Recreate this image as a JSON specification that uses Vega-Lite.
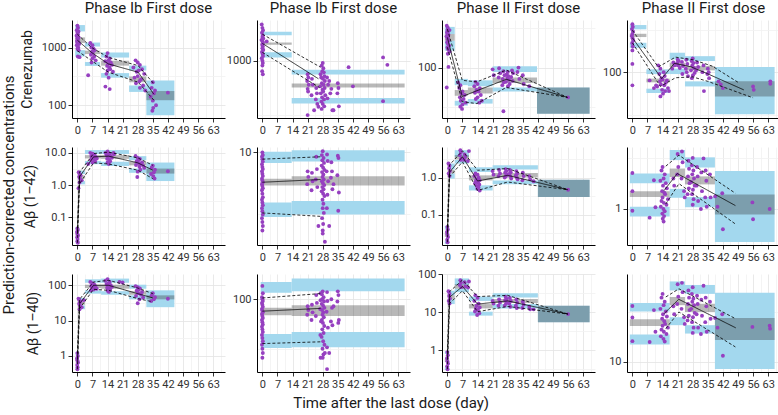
{
"$schema":"https://vega.github.io/schema/vega-lite/v6.json",
"padding":{"left":2,"top":1,"right":0,"bottom":0},
"background":"white",
"title":{"text":"Time after the last dose (day)","orient":"bottom","fontSize":15,"anchor":"middle","offset":7},
"datasets":{
"b":[
{"p":1,"k":"h","x":-1,"x2":3.5,"y":1900,"y2":2450},{"p":1,"k":"m","x":-1,"x2":3.5,"y":1200,"y2":1500},{"p":1,"k":"l","x":-1,"x2":3.5,"y":700,"y2":900},
{"p":1,"k":"h","x":3.5,"x2":10.5,"y":1040,"y2":1220},{"p":1,"k":"m","x":3.5,"x2":10.5,"y":770,"y2":880},{"p":1,"k":"l","x":3.5,"x2":10.5,"y":480,"y2":560},
{"p":1,"k":"h","x":11,"x2":24,"y":670,"y2":820},{"p":1,"k":"m","x":11,"x2":24,"y":485,"y2":590},{"p":1,"k":"l","x":11,"x2":24,"y":300,"y2":360},
{"p":1,"k":"h","x":24,"x2":32,"y":400,"y2":485},{"p":1,"k":"m","x":24,"x2":32,"y":250,"y2":315},{"p":1,"k":"l","x":24,"x2":32,"y":170,"y2":220},
{"p":1,"k":"a","x":32,"x2":45,"y":67,"y2":268},{"p":1,"k":"m","x":32,"x2":45,"y":122,"y2":176},
{"p":2,"k":"h","x":-0.8,"x2":13.6,"y":1710,"y2":1840},{"p":2,"k":"m","x":-0.8,"x2":13.6,"y":1400,"y2":1470},{"p":2,"k":"l","x":-0.8,"x2":13.6,"y":1070,"y2":1190},
{"p":2,"k":"h","x":13.6,"x2":66,"y":745,"y2":825},{"p":2,"k":"m","x":13.6,"x2":66,"y":565,"y2":615},{"p":2,"k":"l","x":13.6,"x2":66,"y":404,"y2":454},
{"p":3,"k":"h","x":-1.2,"x2":3.4,"y":266,"y2":328},{"p":3,"k":"m","x":-1.2,"x2":3.4,"y":219,"y2":266},{"p":3,"k":"l","x":-1.2,"x2":3.4,"y":164,"y2":219},
{"p":3,"k":"h","x":3.4,"x2":9.5,"y":60,"y2":72},{"p":3,"k":"m","x":3.4,"x2":9.5,"y":44,"y2":52},{"p":3,"k":"l","x":3.4,"x2":9.5,"y":33,"y2":38},
{"p":3,"k":"h","x":9.5,"x2":21,"y":58,"y2":69},{"p":3,"k":"m","x":9.5,"x2":21,"y":47,"y2":56},{"p":3,"k":"l","x":9.5,"x2":21,"y":35,"y2":40},
{"p":3,"k":"h","x":21,"x2":41.6,"y":88,"y2":104},{"p":3,"k":"m","x":21,"x2":41.6,"y":64,"y2":75},{"p":3,"k":"l","x":21,"x2":41.6,"y":50,"y2":56},
{"p":3,"k":"a","x":41.6,"x2":66,"y":26,"y2":56},{"p":3,"k":"m","x":41.6,"x2":66,"y":26,"y2":56},
{"p":4,"k":"h","x":-1.2,"x2":6.5,"y":318,"y2":357},{"p":4,"k":"m","x":-1.2,"x2":6.5,"y":258,"y2":282},{"p":4,"k":"l","x":-1.2,"x2":6.5,"y":193,"y2":221},
{"p":4,"k":"h","x":6.5,"x2":17.3,"y":95,"y2":108},{"p":4,"k":"m","x":6.5,"x2":17.3,"y":76,"y2":84},{"p":4,"k":"l","x":6.5,"x2":17.3,"y":57,"y2":64},
{"p":4,"k":"h","x":17.3,"x2":24.4,"y":141,"y2":169},{"p":4,"k":"m","x":17.3,"x2":24.4,"y":115,"y2":129},{"p":4,"k":"l","x":17.3,"x2":24.4,"y":95,"y2":110},
{"p":4,"k":"h","x":24.4,"x2":38.3,"y":135,"y2":154},{"p":4,"k":"m","x":24.4,"x2":38.3,"y":105,"y2":118},{"p":4,"k":"l","x":24.4,"x2":38.3,"y":68,"y2":78},
{"p":4,"k":"a","x":38.3,"x2":66,"y":32,"y2":115},{"p":4,"k":"m","x":38.3,"x2":66,"y":52,"y2":78},
{"p":5,"k":"h","x":-0.8,"x2":0.8,"y":0.04,"y2":0.05},{"p":5,"k":"m","x":-0.8,"x2":0.8,"y":0.025,"y2":0.032},{"p":5,"k":"l","x":-0.8,"x2":0.8,"y":0.015,"y2":0.02},
{"p":5,"k":"h","x":0.8,"x2":3.5,"y":2.2,"y2":2.8},{"p":5,"k":"m","x":0.8,"x2":3.5,"y":1.6,"y2":2.0},{"p":5,"k":"l","x":0.8,"x2":3.5,"y":1.05,"y2":1.33},
{"p":5,"k":"h","x":3.5,"x2":11,"y":9.2,"y2":12.2},{"p":5,"k":"m","x":3.5,"x2":11,"y":6.7,"y2":8.5},{"p":5,"k":"l","x":3.5,"x2":11,"y":4.45,"y2":5.6},
{"p":5,"k":"h","x":11,"x2":24,"y":9.2,"y2":12.2},{"p":5,"k":"m","x":11,"x2":24,"y":6.5,"y2":8.5},{"p":5,"k":"l","x":11,"x2":24,"y":3.9,"y2":5.3},
{"p":5,"k":"h","x":24,"x2":32,"y":5.9,"y2":7.9},{"p":5,"k":"m","x":24,"x2":32,"y":4.1,"y2":5.25},{"p":5,"k":"l","x":24,"x2":32,"y":2.4,"y2":3.25},
{"p":5,"k":"a","x":32,"x2":45,"y":1.33,"y2":5.0},{"p":5,"k":"m","x":32,"x2":45,"y":2.27,"y2":3.25},
{"p":6,"k":"h","x":-0.8,"x2":13.6,"y":8.2,"y2":10.1},{"p":6,"k":"m","x":-0.8,"x2":13.6,"y":5.37,"y2":6.1},{"p":6,"k":"l","x":-0.8,"x2":13.6,"y":2.97,"y2":3.9},
{"p":6,"k":"h","x":13.6,"x2":66,"y":8.4,"y2":10.4},{"p":6,"k":"m","x":13.6,"x2":66,"y":5.37,"y2":6.37},{"p":6,"k":"l","x":13.6,"x2":66,"y":3.1,"y2":4.0},
{"p":7,"k":"h","x":-1.2,"x2":0.8,"y":0.04,"y2":0.05},{"p":7,"k":"m","x":-1.2,"x2":0.8,"y":0.025,"y2":0.033},{"p":7,"k":"l","x":-1.2,"x2":0.8,"y":0.016,"y2":0.02},
{"p":7,"k":"h","x":0.8,"x2":3.4,"y":1.65,"y2":2.4},{"p":7,"k":"m","x":0.8,"x2":3.4,"y":1.3,"y2":1.6},{"p":7,"k":"l","x":0.8,"x2":3.4,"y":0.94,"y2":1.29},
{"p":7,"k":"h","x":3.4,"x2":10,"y":3.65,"y2":5.5},{"p":7,"k":"m","x":3.4,"x2":10,"y":3.1,"y2":4.05},{"p":7,"k":"l","x":3.4,"x2":10,"y":2.4,"y2":3.0},
{"p":7,"k":"h","x":10,"x2":21,"y":1.42,"y2":1.9},{"p":7,"k":"m","x":10,"x2":21,"y":0.84,"y2":1.15},{"p":7,"k":"l","x":10,"x2":21,"y":0.45,"y2":0.62},
{"p":7,"k":"h","x":21,"x2":42,"y":1.65,"y2":2.16},{"p":7,"k":"m","x":21,"x2":42,"y":1.0,"y2":1.33},{"p":7,"k":"l","x":21,"x2":42,"y":0.66,"y2":0.84},
{"p":7,"k":"a","x":42,"x2":66,"y":0.3,"y2":0.88},{"p":7,"k":"m","x":42,"x2":66,"y":0.3,"y2":0.88},
{"p":8,"k":"h","x":-1.2,"x2":17.3,"y":1.8,"y2":2.24},{"p":8,"k":"m","x":-1.2,"x2":17.3,"y":1.31,"y2":1.5},{"p":8,"k":"l","x":-1.2,"x2":17.3,"y":0.84,"y2":1.05},
{"p":8,"k":"h","x":17.3,"x2":24.4,"y":3.04,"y2":3.83},{"p":8,"k":"m","x":17.3,"x2":24.4,"y":2.07,"y2":2.51},{"p":8,"k":"l","x":17.3,"x2":24.4,"y":1.29,"y2":1.58},
{"p":8,"k":"h","x":24.4,"x2":38.3,"y":2.57,"y2":3.24},{"p":8,"k":"m","x":24.4,"x2":38.3,"y":1.75,"y2":2.1},{"p":8,"k":"l","x":24.4,"x2":38.3,"y":1.04,"y2":1.31},
{"p":8,"k":"a","x":38.3,"x2":66,"y":0.47,"y2":2.38},{"p":8,"k":"m","x":38.3,"x2":66,"y":0.88,"y2":1.39},
{"p":9,"k":"h","x":-0.8,"x2":0.8,"y":1.0,"y2":1.3},{"p":9,"k":"m","x":-0.8,"x2":0.8,"y":0.6,"y2":0.8},{"p":9,"k":"l","x":-0.8,"x2":0.8,"y":0.4,"y2":0.5},
{"p":9,"k":"h","x":0.8,"x2":3.5,"y":36,"y2":44},{"p":9,"k":"m","x":0.8,"x2":3.5,"y":28,"y2":34},{"p":9,"k":"l","x":0.8,"x2":3.5,"y":21,"y2":27},
{"p":9,"k":"h","x":3.5,"x2":11,"y":118,"y2":148},{"p":9,"k":"m","x":3.5,"x2":11,"y":84,"y2":104},{"p":9,"k":"l","x":3.5,"x2":11,"y":58,"y2":72},
{"p":9,"k":"h","x":11,"x2":24,"y":118,"y2":155},{"p":9,"k":"m","x":11,"x2":24,"y":80,"y2":104},{"p":9,"k":"l","x":11,"x2":24,"y":54,"y2":68},
{"p":9,"k":"h","x":24,"x2":32,"y":80,"y2":104},{"p":9,"k":"m","x":24,"x2":32,"y":54,"y2":68},{"p":9,"k":"l","x":24,"x2":32,"y":40,"y2":52},
{"p":9,"k":"a","x":32,"x2":45,"y":24,"y2":72},{"p":9,"k":"m","x":32,"x2":45,"y":40,"y2":52},
{"p":10,"k":"h","x":-0.8,"x2":13.6,"y":116,"y2":149},{"p":10,"k":"m","x":-0.8,"x2":13.6,"y":69,"y2":82},{"p":10,"k":"l","x":-0.8,"x2":13.6,"y":32.5,"y2":45},
{"p":10,"k":"h","x":13.6,"x2":66,"y":120,"y2":161},{"p":10,"k":"m","x":13.6,"x2":66,"y":68,"y2":87},{"p":10,"k":"l","x":13.6,"x2":66,"y":33,"y2":47},
{"p":11,"k":"h","x":-1.2,"x2":0.8,"y":0.8,"y2":0.95},{"p":11,"k":"m","x":-1.2,"x2":0.8,"y":0.5,"y2":0.6},{"p":11,"k":"l","x":-1.2,"x2":0.8,"y":0.3,"y2":0.36},
{"p":11,"k":"h","x":0.8,"x2":3.4,"y":28,"y2":37},{"p":11,"k":"m","x":0.8,"x2":3.4,"y":22,"y2":28},{"p":11,"k":"l","x":0.8,"x2":3.4,"y":16.5,"y2":22},
{"p":11,"k":"h","x":3.4,"x2":10,"y":52,"y2":78},{"p":11,"k":"m","x":3.4,"x2":10,"y":42,"y2":55},{"p":11,"k":"l","x":3.4,"x2":10,"y":34,"y2":42},
{"p":11,"k":"h","x":10,"x2":21,"y":20,"y2":26},{"p":11,"k":"m","x":10,"x2":21,"y":12.7,"y2":16.5},{"p":11,"k":"l","x":10,"x2":21,"y":8.2,"y2":10.4},
{"p":11,"k":"h","x":21,"x2":42,"y":24.6,"y2":32},{"p":11,"k":"m","x":21,"x2":42,"y":17.5,"y2":22.3},{"p":11,"k":"l","x":21,"x2":42,"y":12.7,"y2":16.5},
{"p":11,"k":"a","x":42,"x2":66,"y":5.5,"y2":15},{"p":11,"k":"m","x":42,"x2":66,"y":5.5,"y2":15},
{"p":12,"k":"h","x":-1.2,"x2":17.3,"y":32,"y2":39},{"p":12,"k":"m","x":-1.2,"x2":17.3,"y":22.9,"y2":26.7},{"p":12,"k":"l","x":-1.2,"x2":17.3,"y":14.9,"y2":18.8},
{"p":12,"k":"h","x":17.3,"x2":24.4,"y":52,"y2":64},{"p":12,"k":"m","x":17.3,"x2":24.4,"y":37,"y2":44.7},{"p":12,"k":"l","x":17.3,"x2":24.4,"y":23.3,"y2":28},
{"p":12,"k":"h","x":24.4,"x2":38.3,"y":48,"y2":59},{"p":12,"k":"m","x":24.4,"x2":38.3,"y":31.6,"y2":38.2},{"p":12,"k":"l","x":24.4,"x2":38.3,"y":19.2,"y2":23.3},
{"p":12,"k":"a","x":38.3,"x2":66,"y":8.45,"y2":49.3},{"p":12,"k":"m","x":38.3,"x2":66,"y":16.5,"y2":27.5}
],
"l":[
{"p":1,"q":"m","x":0,"y":1340},{"p":1,"q":"m","x":6.6,"y":820},{"p":1,"q":"m","x":14.4,"y":519},{"p":1,"q":"m","x":28.2,"y":373},{"p":1,"q":"m","x":35.5,"y":155},
{"p":1,"q":"h","x":0,"y":1700},{"p":1,"q":"h","x":6.6,"y":1000},{"p":1,"q":"h","x":14.4,"y":674},{"p":1,"q":"h","x":28.2,"y":485},{"p":1,"q":"h","x":35.5,"y":235},
{"p":1,"q":"l","x":0,"y":877},{"p":1,"q":"l","x":6.6,"y":591},{"p":1,"q":"l","x":14.4,"y":373},{"p":1,"q":"l","x":28.2,"y":251},{"p":1,"q":"l","x":35.5,"y":122},
{"p":2,"q":"m","x":0,"y":1437},{"p":2,"q":"m","x":26,"y":681},{"p":2,"q":"h","x":0,"y":1748},{"p":2,"q":"h","x":27,"y":869},{"p":2,"q":"l","x":0,"y":1190},{"p":2,"q":"l","x":26.5,"y":565},
{"p":3,"q":"m","x":0,"y":241},{"p":3,"q":"m","x":6.9,"y":43},{"p":3,"q":"m","x":13.7,"y":51},{"p":3,"q":"m","x":27.3,"y":71},{"p":3,"q":"m","x":55.7,"y":42},
{"p":3,"q":"h","x":0,"y":307},{"p":3,"q":"h","x":6.9,"y":69},{"p":3,"q":"h","x":13.7,"y":66},{"p":3,"q":"h","x":27.3,"y":93},{"p":3,"q":"h","x":55.7,"y":42},
{"p":3,"q":"l","x":0,"y":181},{"p":3,"q":"l","x":6.9,"y":37},{"p":3,"q":"l","x":13.7,"y":35},{"p":3,"q":"l","x":27.3,"y":56},{"p":3,"q":"l","x":55.7,"y":42},
{"p":4,"q":"m","x":0,"y":253},{"p":4,"q":"m","x":13.6,"y":84},{"p":4,"q":"m","x":19.5,"y":127},{"p":4,"q":"m","x":27,"y":116},{"p":4,"q":"m","x":34,"y":98},{"p":4,"q":"m","x":51.7,"y":62},
{"p":4,"q":"h","x":0,"y":310},{"p":4,"q":"h","x":12,"y":115},{"p":4,"q":"h","x":20,"y":150},{"p":4,"q":"h","x":28,"y":140},{"p":4,"q":"h","x":37,"y":118},{"p":4,"q":"h","x":49.4,"y":75},
{"p":4,"q":"l","x":0,"y":221},{"p":4,"q":"l","x":13,"y":68},{"p":4,"q":"l","x":20,"y":86},{"p":4,"q":"l","x":28,"y":88},{"p":4,"q":"l","x":35,"y":78},{"p":4,"q":"l","x":56,"y":50},
{"p":5,"q":"m","x":0,"y":0.03},{"p":5,"q":"m","x":1,"y":1.8},{"p":5,"q":"m","x":7.5,"y":7.5},{"p":5,"q":"m","x":14.5,"y":7.9},{"p":5,"q":"m","x":28,"y":4.9},{"p":5,"q":"m","x":35,"y":2.9},
{"p":5,"q":"h","x":0,"y":0.045},{"p":5,"q":"h","x":1,"y":2.5},{"p":5,"q":"h","x":7.5,"y":9.5},{"p":5,"q":"h","x":14.5,"y":10.5},{"p":5,"q":"h","x":28,"y":7},{"p":5,"q":"h","x":35,"y":4.1},
{"p":5,"q":"l","x":0,"y":0.016},{"p":5,"q":"l","x":1,"y":1.1},{"p":5,"q":"l","x":7.5,"y":4.9},{"p":5,"q":"l","x":14.5,"y":4.5},{"p":5,"q":"l","x":28,"y":2.9},{"p":5,"q":"l","x":35,"y":1.58},
{"p":6,"q":"m","x":0,"y":5.7},{"p":6,"q":"m","x":27,"y":6.0},{"p":6,"q":"h","x":0,"y":8.8},{"p":6,"q":"h","x":27,"y":9.2},{"p":6,"q":"l","x":0,"y":3.2},{"p":6,"q":"l","x":27,"y":3.0},
{"p":7,"q":"m","x":0,"y":0.03},{"p":7,"q":"m","x":1,"y":1.4},{"p":7,"q":"m","x":7,"y":3.65},{"p":7,"q":"m","x":14,"y":0.81},{"p":7,"q":"m","x":28,"y":1.15},{"p":7,"q":"m","x":56,"y":0.47},
{"p":7,"q":"h","x":0,"y":0.047},{"p":7,"q":"h","x":1,"y":2.2},{"p":7,"q":"h","x":7,"y":5.3},{"p":7,"q":"h","x":14,"y":1.58},{"p":7,"q":"h","x":28,"y":1.76},{"p":7,"q":"h","x":56,"y":0.47},
{"p":7,"q":"l","x":0,"y":0.018},{"p":7,"q":"l","x":1,"y":1.05},{"p":7,"q":"l","x":7,"y":2.66},{"p":7,"q":"l","x":14,"y":0.45},{"p":7,"q":"l","x":28,"y":0.76},{"p":7,"q":"l","x":56,"y":0.47},
{"p":8,"q":"m","x":14.7,"y":1.52},{"p":8,"q":"m","x":20.8,"y":2.24},{"p":8,"q":"m","x":47.8,"y":1.08},
{"p":8,"q":"h","x":15.5,"y":2.65},{"p":8,"q":"h","x":21.6,"y":3.4},{"p":8,"q":"h","x":47.8,"y":1.43},
{"p":8,"q":"l","x":15.5,"y":1.12},{"p":8,"q":"l","x":21.6,"y":1.78},{"p":8,"q":"l","x":47.8,"y":0.71},
{"p":9,"q":"m","x":0,"y":0.7},{"p":9,"q":"m","x":1,"y":30},{"p":9,"q":"m","x":7.5,"y":100},{"p":9,"q":"m","x":14.5,"y":100},{"p":9,"q":"m","x":28,"y":58},{"p":9,"q":"m","x":35,"y":44},
{"p":9,"q":"h","x":0,"y":1.2},{"p":9,"q":"h","x":1,"y":40},{"p":9,"q":"h","x":7.5,"y":124},{"p":9,"q":"h","x":14.5,"y":138},{"p":9,"q":"h","x":28,"y":84},{"p":9,"q":"h","x":35,"y":58},
{"p":9,"q":"l","x":0,"y":0.42},{"p":9,"q":"l","x":1,"y":22},{"p":9,"q":"l","x":7.5,"y":77},{"p":9,"q":"l","x":14.5,"y":72},{"p":9,"q":"l","x":28,"y":42},{"p":9,"q":"l","x":35,"y":34},
{"p":10,"q":"m","x":0,"y":76},{"p":10,"q":"m","x":27,"y":81},{"p":10,"q":"h","x":0,"y":103},{"p":10,"q":"h","x":27,"y":114},{"p":10,"q":"l","x":0,"y":36},{"p":10,"q":"l","x":27,"y":37.5},
{"p":11,"q":"m","x":0,"y":0.55},{"p":11,"q":"m","x":1,"y":25},{"p":11,"q":"m","x":7,"y":48},{"p":11,"q":"m","x":14,"y":16.5},{"p":11,"q":"m","x":28,"y":20},{"p":11,"q":"m","x":56,"y":9},
{"p":11,"q":"h","x":0,"y":0.9},{"p":11,"q":"h","x":1,"y":35},{"p":11,"q":"h","x":7,"y":71},{"p":11,"q":"h","x":14,"y":26},{"p":11,"q":"h","x":28,"y":28},{"p":11,"q":"h","x":56,"y":9},
{"p":11,"q":"l","x":0,"y":0.32},{"p":11,"q":"l","x":1,"y":17},{"p":11,"q":"l","x":7,"y":37},{"p":11,"q":"l","x":14,"y":10.4},{"p":11,"q":"l","x":28,"y":14.3},{"p":11,"q":"l","x":56,"y":9},
{"p":12,"q":"m","x":14.7,"y":30.4},{"p":12,"q":"m","x":21.5,"y":42.4},{"p":12,"q":"m","x":48,"y":21.9},
{"p":12,"q":"h","x":15.5,"y":44.7},{"p":12,"q":"h","x":21.6,"y":54},{"p":12,"q":"h","x":47.8,"y":27.1},
{"p":12,"q":"l","x":15.5,"y":21.5},{"p":12,"q":"l","x":21.6,"y":31.6},{"p":12,"q":"l","x":47.8,"y":14.1}
],
"o":[
{"p":1,"x":0,"y":2400},{"p":1,"x":0.3,"y":2200},{"p":1,"x":-0.3,"y":2000},{"p":1,"x":0.5,"y":1900},{"p":1,"x":0,"y":1800},{"p":1,"x":0.2,"y":1700},{"p":1,"x":-0.4,"y":1600},{"p":1,"x":0.6,"y":1500},{"p":1,"x":0,"y":1450},{"p":1,"x":0.3,"y":1400},{"p":1,"x":-0.2,"y":1300},{"p":1,"x":0.5,"y":1250},{"p":1,"x":0,"y":1200},{"p":1,"x":0.8,"y":1150},{"p":1,"x":-0.3,"y":1100},{"p":1,"x":0.4,"y":1000},{"p":1,"x":0,"y":950},{"p":1,"x":0.6,"y":900},{"p":1,"x":0.2,"y":700},{"p":1,"x":1,"y":680},
{"p":1,"x":6,"y":1200},{"p":1,"x":7,"y":1100},{"p":1,"x":6.5,"y":1000},{"p":1,"x":7.5,"y":950},{"p":1,"x":8,"y":900},{"p":1,"x":6.8,"y":850},{"p":1,"x":7.2,"y":800},{"p":1,"x":6.3,"y":750},{"p":1,"x":7.8,"y":700},{"p":1,"x":7,"y":650},{"p":1,"x":8.5,"y":600},{"p":1,"x":6.6,"y":550},{"p":1,"x":5,"y":330},
{"p":1,"x":14,"y":800},{"p":1,"x":13.5,"y":700},{"p":1,"x":15,"y":650},{"p":1,"x":14.5,"y":600},{"p":1,"x":13,"y":580},{"p":1,"x":15.5,"y":550},{"p":1,"x":14.2,"y":520},{"p":1,"x":16,"y":500},{"p":1,"x":13.8,"y":480},{"p":1,"x":14.8,"y":450},{"p":1,"x":15.2,"y":420},{"p":1,"x":14,"y":400},{"p":1,"x":16.5,"y":380},{"p":1,"x":13.5,"y":350},{"p":1,"x":13,"y":210},{"p":1,"x":15,"y":190},{"p":1,"x":14.5,"y":300},
{"p":1,"x":27,"y":600},{"p":1,"x":28,"y":550},{"p":1,"x":29,"y":500},{"p":1,"x":26,"y":450},{"p":1,"x":30,"y":420},{"p":1,"x":28.5,"y":400},{"p":1,"x":27.5,"y":380},{"p":1,"x":31,"y":350},{"p":1,"x":28,"y":320},{"p":1,"x":26.5,"y":300},{"p":1,"x":29.5,"y":280},{"p":1,"x":28.8,"y":260},{"p":1,"x":27.2,"y":240},{"p":1,"x":30.5,"y":220},{"p":1,"x":29,"y":200},{"p":1,"x":31.5,"y":180},
{"p":1,"x":35,"y":250},{"p":1,"x":34.5,"y":200},{"p":1,"x":36,"y":180},{"p":1,"x":35.5,"y":160},{"p":1,"x":34,"y":140},{"p":1,"x":35,"y":120},{"p":1,"x":36.5,"y":100},{"p":1,"x":35.2,"y":90},{"p":1,"x":34.8,"y":80},{"p":1,"x":42,"y":165},
{"p":2,"x":-0.3,"y":2150},{"p":2,"x":0,"y":2000},{"p":2,"x":0.3,"y":1900},{"p":2,"x":-0.2,"y":1800},{"p":2,"x":0.2,"y":1700},{"p":2,"x":0,"y":1650},{"p":2,"x":0.4,"y":1600},{"p":2,"x":-0.4,"y":1550},{"p":2,"x":0.1,"y":1500},{"p":2,"x":0.3,"y":1450},{"p":2,"x":-0.1,"y":1400},{"p":2,"x":0.2,"y":1350},{"p":2,"x":0,"y":1300},{"p":2,"x":0.4,"y":1250},{"p":2,"x":-0.2,"y":1200},{"p":2,"x":0.1,"y":1150},{"p":2,"x":0.3,"y":1100},{"p":2,"x":-0.3,"y":1050},{"p":2,"x":0,"y":1000},{"p":2,"x":0.2,"y":950},{"p":2,"x":0,"y":900},{"p":2,"x":-0.1,"y":800},{"p":2,"x":0.2,"y":750},{"p":2,"x":2,"y":1500},
{"p":2,"x":28,"y":950},{"p":2,"x":27.5,"y":900},{"p":2,"x":28.3,"y":850},{"p":2,"x":27.8,"y":800},{"p":2,"x":28.5,"y":780},{"p":2,"x":27,"y":750},{"p":2,"x":28.8,"y":720},{"p":2,"x":27.3,"y":700},{"p":2,"x":28.1,"y":680},{"p":2,"x":29,"y":650},{"p":2,"x":27.6,"y":620},{"p":2,"x":28.4,"y":600},{"p":2,"x":26.8,"y":580},{"p":2,"x":28.9,"y":560},{"p":2,"x":27.9,"y":540},{"p":2,"x":28.2,"y":520},{"p":2,"x":27.1,"y":500},{"p":2,"x":29.2,"y":480},{"p":2,"x":27.7,"y":460},{"p":2,"x":28.6,"y":440},{"p":2,"x":27.4,"y":420},{"p":2,"x":28,"y":400},{"p":2,"x":28.7,"y":380},{"p":2,"x":27.5,"y":360},
{"p":2,"x":21,"y":750},{"p":2,"x":21.3,"y":700},{"p":2,"x":20.8,"y":650},{"p":2,"x":21.5,"y":600},{"p":2,"x":21,"y":550},{"p":2,"x":21.2,"y":520},{"p":2,"x":23,"y":680},{"p":2,"x":23.4,"y":600},{"p":2,"x":22.8,"y":480},{"p":2,"x":25,"y":560},{"p":2,"x":25.3,"y":500},{"p":2,"x":24.8,"y":440},{"p":2,"x":25.5,"y":400},
{"p":2,"x":30,"y":700},{"p":2,"x":31,"y":650},{"p":2,"x":30.5,"y":600},{"p":2,"x":32,"y":550},{"p":2,"x":31.5,"y":500},{"p":2,"x":30.2,"y":450},{"p":2,"x":32.5,"y":350},{"p":2,"x":35,"y":620},{"p":2,"x":35.3,"y":560},{"p":2,"x":34.8,"y":500},{"p":2,"x":35.5,"y":380},
{"p":2,"x":42,"y":580},{"p":2,"x":40,"y":870},{"p":2,"x":56,"y":1070},{"p":2,"x":58,"y":914},{"p":2,"x":56,"y":424},{"p":2,"x":21,"y":316},{"p":2,"x":26,"y":377},{"p":2,"x":24,"y":350},{"p":2,"x":33,"y":350},
{"p":3,"x":-0.3,"y":340},{"p":3,"x":0.2,"y":320},{"p":3,"x":0,"y":300},{"p":3,"x":0.4,"y":290},{"p":3,"x":-0.2,"y":280},{"p":3,"x":0.1,"y":270},{"p":3,"x":0.5,"y":260},{"p":3,"x":-0.4,"y":250},{"p":3,"x":0.3,"y":240},{"p":3,"x":0,"y":230},{"p":3,"x":0.6,"y":220},{"p":3,"x":-0.1,"y":210},{"p":3,"x":0.2,"y":200},{"p":3,"x":0.8,"y":190},{"p":3,"x":0,"y":180},{"p":3,"x":0.4,"y":170},{"p":3,"x":1,"y":160},{"p":3,"x":0.2,"y":150},{"p":3,"x":1,"y":299},{"p":3,"x":-0.3,"y":56},{"p":3,"x":0.5,"y":102},
{"p":3,"x":5,"y":65},{"p":3,"x":6,"y":60},{"p":3,"x":5.5,"y":55},{"p":3,"x":7,"y":50},{"p":3,"x":6.5,"y":47},{"p":3,"x":8,"y":45},{"p":3,"x":5.8,"y":42},{"p":3,"x":7.5,"y":40},{"p":3,"x":6.2,"y":38},{"p":3,"x":8.5,"y":36},{"p":3,"x":7,"y":34},{"p":3,"x":6,"y":32},{"p":3,"x":6.8,"y":30},
{"p":3,"x":13,"y":66},{"p":3,"x":14,"y":62},{"p":3,"x":12.5,"y":58},{"p":3,"x":15,"y":55},{"p":3,"x":13.5,"y":52},{"p":3,"x":14.5,"y":50},{"p":3,"x":12.8,"y":48},{"p":3,"x":15.5,"y":45},{"p":3,"x":14,"y":42},{"p":3,"x":13.2,"y":40},{"p":3,"x":16,"y":38},{"p":3,"x":14.8,"y":36},
{"p":3,"x":21,"y":95},{"p":3,"x":21.5,"y":80},{"p":3,"x":24,"y":98},{"p":3,"x":24.5,"y":85},{"p":3,"x":23.8,"y":75},{"p":3,"x":26,"y":90},{"p":3,"x":26.5,"y":80},{"p":3,"x":25.7,"y":72},{"p":3,"x":26.2,"y":65},{"p":3,"x":25.5,"y":60},{"p":3,"x":28,"y":88},{"p":3,"x":27.5,"y":82},{"p":3,"x":28.3,"y":78},{"p":3,"x":27.8,"y":74},{"p":3,"x":28.6,"y":70},{"p":3,"x":27.2,"y":66},{"p":3,"x":28.9,"y":62},{"p":3,"x":28.1,"y":58},{"p":3,"x":30,"y":92},{"p":3,"x":30.5,"y":85},{"p":3,"x":29.6,"y":76},{"p":3,"x":30.3,"y":68},{"p":3,"x":33,"y":100},{"p":3,"x":32.5,"y":88},{"p":3,"x":33.4,"y":72},{"p":3,"x":35,"y":80},{"p":3,"x":35.4,"y":62},{"p":3,"x":38,"y":58},{"p":3,"x":26,"y":28},{"p":3,"x":56,"y":42},
{"p":4,"x":0,"y":365},{"p":4,"x":0.2,"y":340},{"p":4,"x":-0.2,"y":320},{"p":4,"x":0.3,"y":300},{"p":4,"x":0,"y":280},{"p":4,"x":-0.3,"y":265},{"p":4,"x":0.1,"y":250},{"p":4,"x":0.4,"y":235},{"p":4,"x":-0.1,"y":220},{"p":4,"x":0.2,"y":200},{"p":4,"x":0,"y":180},{"p":4,"x":0,"y":125},{"p":4,"x":0,"y":70},
{"p":4,"x":12,"y":120},{"p":4,"x":13,"y":110},{"p":4,"x":14.5,"y":100},{"p":4,"x":12.5,"y":95},{"p":4,"x":15,"y":90},{"p":4,"x":13.5,"y":85},{"p":4,"x":14,"y":82},{"p":4,"x":16,"y":80},{"p":4,"x":12.8,"y":78},{"p":4,"x":15.5,"y":75},{"p":4,"x":13.2,"y":72},{"p":4,"x":14.8,"y":70},{"p":4,"x":11.5,"y":68},{"p":4,"x":16.5,"y":65},{"p":4,"x":13.8,"y":62},{"p":4,"x":15.2,"y":60},{"p":4,"x":14.2,"y":56},{"p":4,"x":13,"y":52},{"p":4,"x":8,"y":80},{"p":4,"x":10,"y":65},{"p":4,"x":11,"y":70},{"p":4,"x":17,"y":60},
{"p":4,"x":19,"y":130},{"p":4,"x":19.5,"y":120},{"p":4,"x":18.5,"y":110},{"p":4,"x":21,"y":140},{"p":4,"x":21.5,"y":135},{"p":4,"x":20.8,"y":128},{"p":4,"x":21.2,"y":120},{"p":4,"x":22,"y":112},{"p":4,"x":23,"y":132},{"p":4,"x":23.5,"y":118},{"p":4,"x":23.2,"y":95},{"p":4,"x":25,"y":140},{"p":4,"x":25.5,"y":125},{"p":4,"x":24.8,"y":110},{"p":4,"x":25.2,"y":100},{"p":4,"x":25.8,"y":90},{"p":4,"x":28,"y":145},{"p":4,"x":27.5,"y":135},{"p":4,"x":28.3,"y":128},{"p":4,"x":27.8,"y":120},{"p":4,"x":28.6,"y":112},{"p":4,"x":27.2,"y":105},{"p":4,"x":28.9,"y":98},{"p":4,"x":28.1,"y":92},{"p":4,"x":27.6,"y":85},{"p":4,"x":30,"y":130},{"p":4,"x":30.5,"y":115},{"p":4,"x":29.6,"y":105},{"p":4,"x":33,"y":120},{"p":4,"x":32.5,"y":100},{"p":4,"x":33.2,"y":60},{"p":4,"x":35,"y":110},{"p":4,"x":35.4,"y":100},{"p":4,"x":34.8,"y":95},{"p":4,"x":35.6,"y":85},
{"p":4,"x":40,"y":78},{"p":4,"x":41,"y":72},{"p":4,"x":42,"y":65},{"p":4,"x":56,"y":68},{"p":4,"x":56.3,"y":62},{"p":4,"x":64,"y":78},{"p":4,"x":64,"y":73},
{"p":5,"x":0,"y":0.045},{"p":5,"x":0.2,"y":0.04},{"p":5,"x":-0.2,"y":0.035},{"p":5,"x":0,"y":0.03},{"p":5,"x":0.3,"y":0.027},{"p":5,"x":-0.1,"y":0.024},{"p":5,"x":0.1,"y":0.021},{"p":5,"x":0,"y":0.018},{"p":5,"x":0.2,"y":0.016},
{"p":5,"x":0.6,"y":2.5},{"p":5,"x":1,"y":2.2},{"p":5,"x":1.5,"y":2.0},{"p":5,"x":0.8,"y":1.8},{"p":5,"x":1.2,"y":1.6},{"p":5,"x":2,"y":1.4},{"p":5,"x":1,"y":1.2},{"p":5,"x":0.5,"y":0.8},
{"p":5,"x":6,"y":10},{"p":5,"x":7,"y":9.5},{"p":5,"x":7.5,"y":9},{"p":5,"x":8,"y":8.5},{"p":5,"x":6.5,"y":8},{"p":5,"x":7.2,"y":7.7},{"p":5,"x":8.5,"y":7.4},{"p":5,"x":6.8,"y":7},{"p":5,"x":9,"y":6.7},{"p":5,"x":7.6,"y":6.4},{"p":5,"x":6.3,"y":6},{"p":5,"x":8.2,"y":5.5},{"p":5,"x":7,"y":5},{"p":5,"x":5,"y":4.5},
{"p":5,"x":14,"y":11},{"p":5,"x":13,"y":10},{"p":5,"x":15,"y":9.5},{"p":5,"x":14.5,"y":9},{"p":5,"x":13.5,"y":8.5},{"p":5,"x":15.5,"y":8},{"p":5,"x":14.2,"y":7.5},{"p":5,"x":16,"y":7},{"p":5,"x":13.8,"y":6.5},{"p":5,"x":14.8,"y":6},{"p":5,"x":15.2,"y":5.5},{"p":5,"x":14,"y":5},{"p":5,"x":14.6,"y":4.5},{"p":5,"x":17,"y":9},{"p":5,"x":16.8,"y":10},
{"p":5,"x":27,"y":8},{"p":5,"x":28,"y":7},{"p":5,"x":29,"y":6.5},{"p":5,"x":28.5,"y":6},{"p":5,"x":27.5,"y":5.5},{"p":5,"x":30,"y":5},{"p":5,"x":28.2,"y":4.8},{"p":5,"x":29.5,"y":4.5},{"p":5,"x":27.2,"y":4.2},{"p":5,"x":30.5,"y":4},{"p":5,"x":28.8,"y":3.7},{"p":5,"x":31,"y":3.4},{"p":5,"x":29.2,"y":3},{"p":5,"x":28,"y":2.6},{"p":5,"x":27.8,"y":1.77},
{"p":5,"x":35,"y":4},{"p":5,"x":34.5,"y":3.5},{"p":5,"x":36,"y":3},{"p":5,"x":35.5,"y":2.5},{"p":5,"x":34.2,"y":2.2},{"p":5,"x":35.2,"y":1.9},{"p":5,"x":35.8,"y":1.6},{"p":5,"x":42,"y":2.67},
{"p":6,"x":0,"y":10},{"p":6,"x":0.2,"y":9.5},{"p":6,"x":-0.2,"y":9.2},{"p":6,"x":0,"y":8.8},{"p":6,"x":0.2,"y":8.4},{"p":6,"x":-0.2,"y":8},{"p":6,"x":0,"y":7.6},{"p":6,"x":0.2,"y":7.3},{"p":6,"x":-0.2,"y":7},{"p":6,"x":0,"y":6.7},{"p":6,"x":0.2,"y":6.4},{"p":6,"x":-0.2,"y":6.1},{"p":6,"x":0,"y":5.9},{"p":6,"x":0.2,"y":5.7},{"p":6,"x":-0.2,"y":5.5},{"p":6,"x":0,"y":5.3},{"p":6,"x":0.2,"y":5.1},{"p":6,"x":-0.2,"y":4.9},{"p":6,"x":0,"y":4.6},{"p":6,"x":0.2,"y":4.3},{"p":6,"x":-0.2,"y":4.1},{"p":6,"x":0,"y":3.9},{"p":6,"x":0.2,"y":3.7},{"p":6,"x":-0.2,"y":3.5},{"p":6,"x":0,"y":3.3},{"p":6,"x":0.2,"y":3.1},{"p":6,"x":-0.2,"y":2.9},{"p":6,"x":0,"y":2.7},{"p":6,"x":0.2,"y":2.5},{"p":6,"x":0,"y":2.3},
{"p":6,"x":28,"y":10.2},{"p":6,"x":27.6,"y":9.5},{"p":6,"x":28.4,"y":9},{"p":6,"x":27.8,"y":8.6},{"p":6,"x":28.6,"y":8.2},{"p":6,"x":27.5,"y":7.8},{"p":6,"x":28.2,"y":7.5},{"p":6,"x":28.8,"y":7.2},{"p":6,"x":27.7,"y":6.9},{"p":6,"x":28.3,"y":6.6},{"p":6,"x":27.9,"y":6.3},{"p":6,"x":28.5,"y":6},{"p":6,"x":27.6,"y":5.8},{"p":6,"x":28.1,"y":5.6},{"p":6,"x":28.7,"y":5.4},{"p":6,"x":27.8,"y":5.2},{"p":6,"x":28.4,"y":5},{"p":6,"x":27.5,"y":4.8},{"p":6,"x":28.2,"y":4.6},{"p":6,"x":28.8,"y":4.4},{"p":6,"x":27.9,"y":4.1},{"p":6,"x":28.3,"y":3.8},{"p":6,"x":28,"y":3.5},{"p":6,"x":28.5,"y":3.2},{"p":6,"x":27.7,"y":2.9},{"p":6,"x":28.2,"y":2.6},{"p":6,"x":28,"y":2.3},
{"p":6,"x":21,"y":7},{"p":6,"x":21.3,"y":6.3},{"p":6,"x":20.8,"y":5.5},{"p":6,"x":23,"y":6.8},{"p":6,"x":23.3,"y":5.8},{"p":6,"x":22.8,"y":4.9},{"p":6,"x":25,"y":9.2},{"p":6,"x":25.3,"y":7.3},{"p":6,"x":24.8,"y":6},{"p":6,"x":25.5,"y":5.2},{"p":6,"x":30,"y":9.6},{"p":6,"x":30.3,"y":8.5},{"p":6,"x":29.8,"y":7},{"p":6,"x":30.5,"y":5.8},{"p":6,"x":30.2,"y":4.5},{"p":6,"x":29.9,"y":3.5},{"p":6,"x":32,"y":8.3},{"p":6,"x":32.3,"y":7},{"p":6,"x":31.8,"y":6.2},{"p":6,"x":32.5,"y":5},{"p":6,"x":35,"y":9.4},{"p":6,"x":35.3,"y":9},{"p":6,"x":34.8,"y":6.5},{"p":6,"x":35.5,"y":4.7},{"p":6,"x":35.2,"y":3.33},{"p":6,"x":33,"y":5.5},{"p":6,"x":28,"y":2.17},{"p":6,"x":29,"y":1.86},{"p":6,"x":26,"y":2.5},{"p":6,"x":31,"y":2.5},
{"p":7,"x":0,"y":0.047},{"p":7,"x":0.2,"y":0.04},{"p":7,"x":-0.2,"y":0.034},{"p":7,"x":0,"y":0.029},{"p":7,"x":0.3,"y":0.025},{"p":7,"x":-0.1,"y":0.021},{"p":7,"x":0.1,"y":0.018},
{"p":7,"x":0.5,"y":2.4},{"p":7,"x":1,"y":2.1},{"p":7,"x":0.8,"y":1.8},{"p":7,"x":1.2,"y":1.5},{"p":7,"x":0.6,"y":1.3},{"p":7,"x":1,"y":1.1},
{"p":7,"x":6,"y":5.5},{"p":7,"x":6.3,"y":4.8},{"p":7,"x":5.8,"y":4},{"p":7,"x":6.5,"y":3.3},{"p":7,"x":6.2,"y":3},{"p":7,"x":8,"y":4.2},{"p":7,"x":8.3,"y":3.6},{"p":7,"x":7.8,"y":3},{"p":7,"x":10,"y":5.2},{"p":7,"x":9.5,"y":2.8},
{"p":7,"x":13,"y":1.3},{"p":7,"x":14,"y":1.2},{"p":7,"x":12.5,"y":1.1},{"p":7,"x":14.5,"y":1.0},{"p":7,"x":13.5,"y":0.9},{"p":7,"x":15,"y":0.85},{"p":7,"x":13.2,"y":0.8},{"p":7,"x":14.2,"y":0.75},{"p":7,"x":12.8,"y":0.7},{"p":7,"x":14.8,"y":0.65},{"p":7,"x":13.6,"y":0.6},{"p":7,"x":14.4,"y":0.55},{"p":7,"x":13.9,"y":0.5},{"p":7,"x":15,"y":0.45},
{"p":7,"x":21,"y":1.5},{"p":7,"x":21.4,"y":1.2},{"p":7,"x":24,"y":1.6},{"p":7,"x":24.4,"y":1.3},{"p":7,"x":23.7,"y":1.1},{"p":7,"x":27,"y":1.7},{"p":7,"x":27.4,"y":1.5},{"p":7,"x":26.8,"y":1.35},{"p":7,"x":27.6,"y":1.2},{"p":7,"x":27.2,"y":1.1},{"p":7,"x":26.6,"y":1.0},{"p":7,"x":29,"y":1.6},{"p":7,"x":29.4,"y":1.4},{"p":7,"x":28.7,"y":1.25},{"p":7,"x":29.2,"y":1.1},{"p":7,"x":29.6,"y":0.95},{"p":7,"x":32,"y":1.5},{"p":7,"x":32.4,"y":1.3},{"p":7,"x":31.8,"y":1.15},{"p":7,"x":32.2,"y":1.0},{"p":7,"x":32.6,"y":0.9},{"p":7,"x":35,"y":1.35},{"p":7,"x":35.4,"y":1.1},{"p":7,"x":34.8,"y":0.85},{"p":7,"x":38,"y":1.1},{"p":7,"x":38.4,"y":0.9},{"p":7,"x":40,"y":0.8},{"p":7,"x":56,"y":0.47},
{"p":8,"x":0,"y":2.27},{"p":8,"x":0,"y":1.5},{"p":8,"x":0,"y":0.96},{"p":8,"x":8,"y":0.82},{"p":8,"x":10.7,"y":1.04},{"p":8,"x":10,"y":1.92},
{"p":8,"x":14,"y":2.6},{"p":8,"x":13.5,"y":2.4},{"p":8,"x":15,"y":2.2},{"p":8,"x":14.5,"y":2.0},{"p":8,"x":13,"y":1.9},{"p":8,"x":15.5,"y":1.8},{"p":8,"x":14.2,"y":1.7},{"p":8,"x":16,"y":1.6},{"p":8,"x":13.8,"y":1.5},{"p":8,"x":14.8,"y":1.45},{"p":8,"x":15.2,"y":1.4},{"p":8,"x":14,"y":1.3},{"p":8,"x":16.5,"y":1.25},{"p":8,"x":13.5,"y":1.2},{"p":8,"x":14.6,"y":1.15},{"p":8,"x":15.8,"y":1.1},{"p":8,"x":13.2,"y":1.05},{"p":8,"x":14.4,"y":1.0},{"p":8,"x":15,"y":0.95},{"p":8,"x":13.9,"y":0.9},{"p":8,"x":14.7,"y":0.85},{"p":8,"x":14.1,"y":0.8},{"p":8,"x":14.5,"y":0.75},
{"p":8,"x":19,"y":2.0},{"p":8,"x":19.4,"y":1.7},{"p":8,"x":21,"y":3.5},{"p":8,"x":21.3,"y":2.6},{"p":8,"x":20.8,"y":2.2},{"p":8,"x":23,"y":3.7},{"p":8,"x":23.3,"y":2.9},{"p":8,"x":22.8,"y":2.0},{"p":8,"x":24,"y":1.5},{"p":8,"x":24.3,"y":1.3},{"p":8,"x":26,"y":3.0},{"p":8,"x":26.3,"y":2.5},{"p":8,"x":25.8,"y":2.1},{"p":8,"x":26.5,"y":1.8},{"p":8,"x":26.2,"y":1.6},{"p":8,"x":25.6,"y":1.4},{"p":8,"x":28,"y":3.2},{"p":8,"x":27.6,"y":2.7},{"p":8,"x":28.3,"y":2.4},{"p":8,"x":27.8,"y":2.2},{"p":8,"x":28.6,"y":2.0},{"p":8,"x":27.3,"y":1.85},{"p":8,"x":28.9,"y":1.7},{"p":8,"x":28.1,"y":1.55},{"p":8,"x":27.7,"y":1.4},{"p":8,"x":28.4,"y":1.25},{"p":8,"x":28,"y":1.1},{"p":8,"x":30,"y":2.6},{"p":8,"x":30.3,"y":2.1},{"p":8,"x":29.8,"y":1.7},{"p":8,"x":30.5,"y":1.2},{"p":8,"x":32,"y":2.3},{"p":8,"x":32.3,"y":1.5},{"p":8,"x":31.8,"y":1.0},{"p":8,"x":34,"y":2.4},{"p":8,"x":34.3,"y":1.9},{"p":8,"x":33.8,"y":1.3},{"p":8,"x":34.5,"y":1.05},{"p":8,"x":36,"y":2.2},{"p":8,"x":36.3,"y":1.3},{"p":8,"x":33,"y":3.16},
{"p":8,"x":38.4,"y":1.33},{"p":8,"x":39.5,"y":1.05},{"p":8,"x":42,"y":0.63},{"p":8,"x":41.7,"y":1.43},{"p":8,"x":55.7,"y":1.16},{"p":8,"x":56,"y":0.79},{"p":8,"x":63.7,"y":1.0},
{"p":9,"x":0,"y":1.2},{"p":9,"x":0.2,"y":1.0},{"p":9,"x":-0.2,"y":0.85},{"p":9,"x":0,"y":0.75},{"p":9,"x":0.3,"y":0.65},{"p":9,"x":-0.1,"y":0.55},{"p":9,"x":0.1,"y":0.48},{"p":9,"x":0,"y":0.42},
{"p":9,"x":0.5,"y":42},{"p":9,"x":1,"y":38},{"p":9,"x":1.5,"y":34},{"p":9,"x":0.8,"y":30},{"p":9,"x":1.2,"y":27},{"p":9,"x":2,"y":24},{"p":9,"x":1,"y":21},{"p":9,"x":3,"y":38},
{"p":9,"x":6,"y":125},{"p":9,"x":7,"y":115},{"p":9,"x":7.5,"y":108},{"p":9,"x":8,"y":102},{"p":9,"x":6.5,"y":97},{"p":9,"x":7.2,"y":92},{"p":9,"x":8.5,"y":88},{"p":9,"x":6.8,"y":84},{"p":9,"x":9,"y":80},{"p":9,"x":7.6,"y":76},{"p":9,"x":6.3,"y":72},
{"p":9,"x":14,"y":150},{"p":9,"x":13,"y":135},{"p":9,"x":15,"y":125},{"p":9,"x":14.5,"y":115},{"p":9,"x":13.5,"y":108},{"p":9,"x":15.5,"y":100},{"p":9,"x":14.2,"y":95},{"p":9,"x":16,"y":90},{"p":9,"x":13.8,"y":85},{"p":9,"x":14.8,"y":80},{"p":9,"x":15.2,"y":75},{"p":9,"x":14,"y":70},{"p":9,"x":14.6,"y":65},{"p":9,"x":19.5,"y":125},{"p":9,"x":21,"y":120},
{"p":9,"x":27,"y":95},{"p":9,"x":28,"y":88},{"p":9,"x":29,"y":82},{"p":9,"x":28.5,"y":76},{"p":9,"x":27.5,"y":70},{"p":9,"x":30,"y":65},{"p":9,"x":28.2,"y":60},{"p":9,"x":29.5,"y":55},{"p":9,"x":27.2,"y":50},{"p":9,"x":30.5,"y":45},{"p":9,"x":28.8,"y":40},{"p":9,"x":28,"y":31},
{"p":9,"x":35,"y":60},{"p":9,"x":34.5,"y":52},{"p":9,"x":36,"y":46},{"p":9,"x":35.5,"y":40},{"p":9,"x":34.2,"y":36},{"p":9,"x":42,"y":41.7},
{"p":10,"x":0,"y":136},{"p":10,"x":0.2,"y":115},{"p":10,"x":-0.2,"y":105},{"p":10,"x":0,"y":100},{"p":10,"x":0.2,"y":96},{"p":10,"x":-0.2,"y":92},{"p":10,"x":0,"y":88},{"p":10,"x":0.2,"y":84},{"p":10,"x":-0.2,"y":80},{"p":10,"x":0,"y":77},{"p":10,"x":0.2,"y":74},{"p":10,"x":-0.2,"y":71},{"p":10,"x":0,"y":68},{"p":10,"x":0.2,"y":65},{"p":10,"x":-0.2,"y":62},{"p":10,"x":0,"y":59},{"p":10,"x":0.2,"y":56},{"p":10,"x":-0.2,"y":53},{"p":10,"x":0,"y":50},{"p":10,"x":0.2,"y":47},{"p":10,"x":-0.2,"y":44},{"p":10,"x":0,"y":41},{"p":10,"x":0.2,"y":38},{"p":10,"x":-0.2,"y":35},{"p":10,"x":0,"y":32},{"p":10,"x":0.2,"y":29},{"p":10,"x":0,"y":26},
{"p":10,"x":28,"y":120},{"p":10,"x":27.6,"y":112},{"p":10,"x":28.4,"y":105},{"p":10,"x":27.8,"y":100},{"p":10,"x":28.6,"y":95},{"p":10,"x":27.5,"y":90},{"p":10,"x":28.2,"y":86},{"p":10,"x":28.8,"y":82},{"p":10,"x":27.7,"y":78},{"p":10,"x":28.3,"y":74},{"p":10,"x":27.9,"y":70},{"p":10,"x":28.5,"y":66},{"p":10,"x":27.6,"y":62},{"p":10,"x":28.1,"y":58},{"p":10,"x":28.7,"y":54},{"p":10,"x":27.8,"y":50},{"p":10,"x":28.4,"y":46},{"p":10,"x":27.5,"y":42},{"p":10,"x":28.2,"y":38},{"p":10,"x":28.8,"y":35},{"p":10,"x":27.9,"y":32},{"p":10,"x":28.3,"y":28},{"p":10,"x":28,"y":26},
{"p":10,"x":27,"y":115},{"p":10,"x":27,"y":98},{"p":10,"x":26.8,"y":80},{"p":10,"x":27.2,"y":60},{"p":10,"x":26.9,"y":44},{"p":10,"x":30,"y":118},{"p":10,"x":30.2,"y":96},{"p":10,"x":29.8,"y":75},{"p":10,"x":30.4,"y":52},{"p":10,"x":30,"y":33},{"p":10,"x":21,"y":85},{"p":10,"x":21.3,"y":78},{"p":10,"x":20.8,"y":70},{"p":10,"x":23,"y":88},{"p":10,"x":23.3,"y":74},{"p":10,"x":22.8,"y":62},{"p":10,"x":25,"y":110},{"p":10,"x":25.3,"y":92},{"p":10,"x":24.8,"y":68},{"p":10,"x":32,"y":100},{"p":10,"x":32.3,"y":82},{"p":10,"x":31.8,"y":60},{"p":10,"x":32.5,"y":55},{"p":10,"x":35,"y":120},{"p":10,"x":35.3,"y":110},{"p":10,"x":34.8,"y":95},{"p":10,"x":35.5,"y":62},{"p":10,"x":35.2,"y":58},{"p":10,"x":33,"y":85},{"p":10,"x":27,"y":26},{"p":10,"x":29,"y":29},{"p":10,"x":31,"y":29},{"p":10,"x":30,"y":20},
{"p":11,"x":0,"y":0.9},{"p":11,"x":0.2,"y":0.75},{"p":11,"x":-0.2,"y":0.62},{"p":11,"x":0,"y":0.52},{"p":11,"x":0.3,"y":0.45},{"p":11,"x":-0.1,"y":0.38},{"p":11,"x":0.1,"y":0.32},
{"p":11,"x":0.5,"y":36},{"p":11,"x":1,"y":31},{"p":11,"x":0.8,"y":27},{"p":11,"x":1.2,"y":23},{"p":11,"x":0.6,"y":20},{"p":11,"x":1,"y":17},
{"p":11,"x":6,"y":70},{"p":11,"x":6.3,"y":60},{"p":11,"x":5.8,"y":52},{"p":11,"x":6.5,"y":46},{"p":11,"x":8,"y":62},{"p":11,"x":8.3,"y":48},{"p":11,"x":10,"y":65},{"p":11,"x":9.6,"y":45},
{"p":11,"x":13,"y":28},{"p":11,"x":14,"y":24},{"p":11,"x":12.5,"y":20},{"p":11,"x":14.5,"y":17},{"p":11,"x":13.5,"y":15},{"p":11,"x":15,"y":13.5},{"p":11,"x":13.2,"y":12.5},{"p":11,"x":14.2,"y":11.5},{"p":11,"x":12.8,"y":10.5},{"p":11,"x":14.8,"y":9.5},{"p":11,"x":13.8,"y":8.5},
{"p":11,"x":21,"y":20},{"p":11,"x":21.4,"y":17},{"p":11,"x":24,"y":22},{"p":11,"x":24.4,"y":18},{"p":11,"x":23.7,"y":15},{"p":11,"x":27,"y":26},{"p":11,"x":27.4,"y":23},{"p":11,"x":26.8,"y":21},{"p":11,"x":27.6,"y":19},{"p":11,"x":27.2,"y":17},{"p":11,"x":26.6,"y":15},{"p":11,"x":29,"y":24},{"p":11,"x":29.4,"y":20},{"p":11,"x":28.7,"y":17},{"p":11,"x":29.2,"y":14},{"p":11,"x":32,"y":22},{"p":11,"x":32.4,"y":18},{"p":11,"x":31.8,"y":15},{"p":11,"x":32.2,"y":13},{"p":11,"x":35,"y":19},{"p":11,"x":35.4,"y":16},{"p":11,"x":34.8,"y":13},{"p":11,"x":38,"y":14},{"p":11,"x":38.4,"y":12},{"p":11,"x":40,"y":12},{"p":11,"x":56,"y":9},
{"p":12,"x":0,"y":36.3},{"p":12,"x":0,"y":27.8},{"p":12,"x":0,"y":16.1},{"p":12,"x":8,"y":15.8},{"p":12,"x":10.7,"y":20},{"p":12,"x":10,"y":33},
{"p":12,"x":14,"y":48},{"p":12,"x":13.5,"y":44},{"p":12,"x":15,"y":40},{"p":12,"x":14.5,"y":37},{"p":12,"x":13,"y":34},{"p":12,"x":15.5,"y":32},{"p":12,"x":14.2,"y":30},{"p":12,"x":16,"y":28.5},{"p":12,"x":13.8,"y":27},{"p":12,"x":14.8,"y":25.5},{"p":12,"x":15.2,"y":24},{"p":12,"x":14,"y":23},{"p":12,"x":16.5,"y":22},{"p":12,"x":13.5,"y":21},{"p":12,"x":14.6,"y":20},{"p":12,"x":15.8,"y":19},{"p":12,"x":13.2,"y":18},{"p":12,"x":14.4,"y":17},{"p":12,"x":15,"y":16},
{"p":12,"x":19,"y":36},{"p":12,"x":19.4,"y":30},{"p":12,"x":21,"y":60},{"p":12,"x":21.3,"y":45},{"p":12,"x":20.8,"y":38},{"p":12,"x":23,"y":62},{"p":12,"x":23.3,"y":50},{"p":12,"x":22.8,"y":34},{"p":12,"x":24,"y":28},{"p":12,"x":24.3,"y":24},{"p":12,"x":26,"y":52},{"p":12,"x":26.3,"y":44},{"p":12,"x":25.8,"y":38},{"p":12,"x":26.5,"y":33},{"p":12,"x":26.2,"y":29},{"p":12,"x":25.6,"y":26},{"p":12,"x":28,"y":56},{"p":12,"x":27.6,"y":48},{"p":12,"x":28.3,"y":43},{"p":12,"x":27.8,"y":40},{"p":12,"x":28.6,"y":37},{"p":12,"x":27.3,"y":34},{"p":12,"x":28.9,"y":31},{"p":12,"x":28.1,"y":28},{"p":12,"x":27.7,"y":25},{"p":12,"x":28.4,"y":22},{"p":12,"x":28,"y":19.5},{"p":12,"x":30,"y":46},{"p":12,"x":30.3,"y":38},{"p":12,"x":29.8,"y":30},{"p":12,"x":30.5,"y":22},{"p":12,"x":32,"y":42},{"p":12,"x":32.3,"y":29},{"p":12,"x":31.8,"y":19},{"p":12,"x":34,"y":44},{"p":12,"x":34.3,"y":36},{"p":12,"x":33.8,"y":25},{"p":12,"x":34.5,"y":20},{"p":12,"x":36,"y":40},{"p":12,"x":36.3,"y":27},{"p":12,"x":33,"y":58},
{"p":12,"x":38.4,"y":27.5},{"p":12,"x":39.5,"y":22},{"p":12,"x":42,"y":11.5},{"p":12,"x":41.7,"y":30},{"p":12,"x":55.7,"y":22.4},{"p":12,"x":63.7,"y":23},{"p":12,"x":63.9,"y":21.5}
]
},
"vconcat":[{
"title":{"text":"Prediction-corrected concentrations","orient":"left","fontSize":15,"anchor":"middle","offset":3},
"columns":4,
"spacing":{"row":29,"column":32},
"bounds":"flush",
"concat":[
{"width":153,"height":98,"title":"Phase Ib First dose",
"encoding":{"x":{"field":"x","type":"quantitative","scale":{"domain":[-2.5,68.5],"nice":false,"zero":false},"axis":{"values":[0,3.5,7,10.5,14,17.5,21,24.5,28,31.5,35,38.5,42,45.5,49,52.5,56,59.5,63,66.5],"title":null}},
"y":{"field":"y","type":"quantitative","scale":{"type":"log","domain":[60,3000],"nice":false},"axis":{"values":[0.01,0.0316,0.1,0.316,1,3.16,10,31.6,100,316,1000,3162],"format":"d","title":"Crenezumab"}}},
"layer":[
{"data":{"name":"b"},"transform":[{"filter":"datum.p==1 && datum.k!='m'"}],"mark":{"type":"rect","fill":"#a3d8ee"},"encoding":{"x2":{"field":"x2"},"y2":{"field":"y2"}}},
{"data":{"name":"b"},"transform":[{"filter":"datum.p==1 && datum.k=='m'"}],"mark":{"type":"rect","fill":"#333333","opacity":0.35},"encoding":{"x2":{"field":"x2"},"y2":{"field":"y2"}}},
{"data":{"name":"o"},"transform":[{"filter":"datum.p==1"}],"mark":{"type":"circle","color":"#9640c0","size":15,"opacity":1}},
{"data":{"name":"l"},"transform":[{"filter":"datum.p==1"}],"mark":{"type":"line","color":"black","strokeWidth":0.8},"encoding":{"strokeDash":{"field":"q","scale":{"domain":["m","h","l"],"range":[[1,0],[3,2],[3,2]]},"legend":null}}}
]},
{"width":153,"height":98,"title":"Phase Ib First dose",
"encoding":{"x":{"field":"x","type":"quantitative","scale":{"domain":[-2.5,68.5],"nice":false,"zero":false},"axis":{"values":[0,3.5,7,10.5,14,17.5,21,24.5,28,31.5,35,38.5,42,45.5,49,52.5,56,59.5,63,66.5],"title":null}},
"y":{"field":"y","type":"quantitative","scale":{"type":"log","domain":[297,2360],"nice":false},"axis":{"values":[0.01,0.0316,0.1,0.316,1,3.16,10,31.6,100,316,1000,3162],"format":"d","title":null}}},
"layer":[
{"data":{"name":"b"},"transform":[{"filter":"datum.p==2 && datum.k!='m'"}],"mark":{"type":"rect","fill":"#a3d8ee"},"encoding":{"x2":{"field":"x2"},"y2":{"field":"y2"}}},
{"data":{"name":"b"},"transform":[{"filter":"datum.p==2 && datum.k=='m'"}],"mark":{"type":"rect","fill":"#333333","opacity":0.35},"encoding":{"x2":{"field":"x2"},"y2":{"field":"y2"}}},
{"data":{"name":"o"},"transform":[{"filter":"datum.p==2"}],"mark":{"type":"circle","color":"#9640c0","size":15,"opacity":1}},
{"data":{"name":"l"},"transform":[{"filter":"datum.p==2"}],"mark":{"type":"line","color":"black","strokeWidth":0.8},"encoding":{"strokeDash":{"field":"q","scale":{"domain":["m","h","l"],"range":[[1,0],[3,2],[3,2]]},"legend":null}}}
]},
{"width":153,"height":98,"title":"Phase II First dose",
"encoding":{"x":{"field":"x","type":"quantitative","scale":{"domain":[-2.5,68.5],"nice":false,"zero":false},"axis":{"values":[0,3.5,7,10.5,14,17.5,21,24.5,28,31.5,35,38.5,42,45.5,49,52.5,56,59.5,63,66.5],"title":null}},
"y":{"field":"y","type":"quantitative","scale":{"type":"log","domain":[23,401],"nice":false},"axis":{"values":[0.01,0.0316,0.1,0.316,1,3.16,10,31.6,100,316,1000,3162],"format":"d","title":null}}},
"layer":[
{"data":{"name":"b"},"transform":[{"filter":"datum.p==3 && datum.k!='m'"}],"mark":{"type":"rect","fill":"#a3d8ee"},"encoding":{"x2":{"field":"x2"},"y2":{"field":"y2"}}},
{"data":{"name":"b"},"transform":[{"filter":"datum.p==3 && datum.k=='m'"}],"mark":{"type":"rect","fill":"#333333","opacity":0.35},"encoding":{"x2":{"field":"x2"},"y2":{"field":"y2"}}},
{"data":{"name":"o"},"transform":[{"filter":"datum.p==3"}],"mark":{"type":"circle","color":"#9640c0","size":15,"opacity":1}},
{"data":{"name":"l"},"transform":[{"filter":"datum.p==3"}],"mark":{"type":"line","color":"black","strokeWidth":0.8},"encoding":{"strokeDash":{"field":"q","scale":{"domain":["m","h","l"],"range":[[1,0],[3,2],[3,2]]},"legend":null}}}
]},
{"width":153,"height":98,"title":"Phase II First dose",
"encoding":{"x":{"field":"x","type":"quantitative","scale":{"domain":[-2.5,68.5],"nice":false,"zero":false},"axis":{"values":[0,3.5,7,10.5,14,17.5,21,24.5,28,31.5,35,38.5,42,45.5,49,52.5,56,59.5,63,66.5],"title":null}},
"y":{"field":"y","type":"quantitative","scale":{"type":"log","domain":[29,409],"nice":false},"axis":{"values":[0.01,0.0316,0.1,0.316,1,3.16,10,31.6,100,316,1000,3162],"format":"d","title":null}}},
"layer":[
{"data":{"name":"b"},"transform":[{"filter":"datum.p==4 && datum.k!='m'"}],"mark":{"type":"rect","fill":"#a3d8ee"},"encoding":{"x2":{"field":"x2"},"y2":{"field":"y2"}}},
{"data":{"name":"b"},"transform":[{"filter":"datum.p==4 && datum.k=='m'"}],"mark":{"type":"rect","fill":"#333333","opacity":0.35},"encoding":{"x2":{"field":"x2"},"y2":{"field":"y2"}}},
{"data":{"name":"o"},"transform":[{"filter":"datum.p==4"}],"mark":{"type":"circle","color":"#9640c0","size":15,"opacity":1}},
{"data":{"name":"l"},"transform":[{"filter":"datum.p==4"}],"mark":{"type":"line","color":"black","strokeWidth":0.8},"encoding":{"strokeDash":{"field":"q","scale":{"domain":["m","h","l"],"range":[[1,0],[3,2],[3,2]]},"legend":null}}}
]},
{"width":153,"height":98,
"encoding":{"x":{"field":"x","type":"quantitative","scale":{"domain":[-2.5,68.5],"nice":false,"zero":false},"axis":{"values":[0,3.5,7,10.5,14,17.5,21,24.5,28,31.5,35,38.5,42,45.5,49,52.5,56,59.5,63,66.5],"title":null}},
"y":{"field":"y","type":"quantitative","scale":{"type":"log","domain":[0.0137,15.2],"nice":false},"axis":{"values":[0.01,0.0316,0.1,0.316,1,3.16,10,31.6,100,316,1000,3162],"format":".1f","title":"Aβ (1–42)"}}},
"layer":[
{"data":{"name":"b"},"transform":[{"filter":"datum.p==5 && datum.k!='m'"}],"mark":{"type":"rect","fill":"#a3d8ee"},"encoding":{"x2":{"field":"x2"},"y2":{"field":"y2"}}},
{"data":{"name":"b"},"transform":[{"filter":"datum.p==5 && datum.k=='m'"}],"mark":{"type":"rect","fill":"#333333","opacity":0.35},"encoding":{"x2":{"field":"x2"},"y2":{"field":"y2"}}},
{"data":{"name":"o"},"transform":[{"filter":"datum.p==5"}],"mark":{"type":"circle","color":"#9640c0","size":15,"opacity":1}},
{"data":{"name":"l"},"transform":[{"filter":"datum.p==5"}],"mark":{"type":"line","color":"black","strokeWidth":0.8},"encoding":{"strokeDash":{"field":"q","scale":{"domain":["m","h","l"],"range":[[1,0],[3,2],[3,2]]},"legend":null}}}
]},
{"width":153,"height":98,
"encoding":{"x":{"field":"x","type":"quantitative","scale":{"domain":[-2.5,68.5],"nice":false,"zero":false},"axis":{"values":[0,3.5,7,10.5,14,17.5,21,24.5,28,31.5,35,38.5,42,45.5,49,52.5,56,59.5,63,66.5],"title":null}},
"y":{"field":"y","type":"quantitative","scale":{"type":"log","domain":[1.75,11.06],"nice":false},"axis":{"values":[0.01,0.0316,0.1,0.316,1,3.16,10,31.6,100,316,1000,3162],"format":"d","title":null}}},
"layer":[
{"data":{"name":"b"},"transform":[{"filter":"datum.p==6 && datum.k!='m'"}],"mark":{"type":"rect","fill":"#a3d8ee"},"encoding":{"x2":{"field":"x2"},"y2":{"field":"y2"}}},
{"data":{"name":"b"},"transform":[{"filter":"datum.p==6 && datum.k=='m'"}],"mark":{"type":"rect","fill":"#333333","opacity":0.35},"encoding":{"x2":{"field":"x2"},"y2":{"field":"y2"}}},
{"data":{"name":"o"},"transform":[{"filter":"datum.p==6"}],"mark":{"type":"circle","color":"#9640c0","size":15,"opacity":1}},
{"data":{"name":"l"},"transform":[{"filter":"datum.p==6"}],"mark":{"type":"line","color":"black","strokeWidth":0.8},"encoding":{"strokeDash":{"field":"q","scale":{"domain":["m","h","l"],"range":[[1,0],[3,2],[3,2]]},"legend":null}}}
]},
{"width":153,"height":98,
"encoding":{"x":{"field":"x","type":"quantitative","scale":{"domain":[-2.5,68.5],"nice":false,"zero":false},"axis":{"values":[0,3.5,7,10.5,14,17.5,21,24.5,28,31.5,35,38.5,42,45.5,49,52.5,56,59.5,63,66.5],"title":null}},
"y":{"field":"y","type":"quantitative","scale":{"type":"log","domain":[0.0152,6.7],"nice":false},"axis":{"values":[0.01,0.0316,0.1,0.316,1,3.16,10,31.6,100,316,1000,3162],"format":".1f","title":null}}},
"layer":[
{"data":{"name":"b"},"transform":[{"filter":"datum.p==7 && datum.k!='m'"}],"mark":{"type":"rect","fill":"#a3d8ee"},"encoding":{"x2":{"field":"x2"},"y2":{"field":"y2"}}},
{"data":{"name":"b"},"transform":[{"filter":"datum.p==7 && datum.k=='m'"}],"mark":{"type":"rect","fill":"#333333","opacity":0.35},"encoding":{"x2":{"field":"x2"},"y2":{"field":"y2"}}},
{"data":{"name":"o"},"transform":[{"filter":"datum.p==7"}],"mark":{"type":"circle","color":"#9640c0","size":15,"opacity":1}},
{"data":{"name":"l"},"transform":[{"filter":"datum.p==7"}],"mark":{"type":"line","color":"black","strokeWidth":0.8},"encoding":{"strokeDash":{"field":"q","scale":{"domain":["m","h","l"],"range":[[1,0],[3,2],[3,2]]},"legend":null}}}
]},
{"width":153,"height":98,
"encoding":{"x":{"field":"x","type":"quantitative","scale":{"domain":[-2.5,68.5],"nice":false,"zero":false},"axis":{"values":[0,3.5,7,10.5,14,17.5,21,24.5,28,31.5,35,38.5,42,45.5,49,52.5,56,59.5,63,66.5],"title":null}},
"y":{"field":"y","type":"quantitative","scale":{"type":"log","domain":[0.44,4.1],"nice":false},"axis":{"values":[0.01,0.0316,0.1,0.316,1,3.16,10,31.6,100,316,1000,3162],"format":"d","title":null}}},
"layer":[
{"data":{"name":"b"},"transform":[{"filter":"datum.p==8 && datum.k!='m'"}],"mark":{"type":"rect","fill":"#a3d8ee"},"encoding":{"x2":{"field":"x2"},"y2":{"field":"y2"}}},
{"data":{"name":"b"},"transform":[{"filter":"datum.p==8 && datum.k=='m'"}],"mark":{"type":"rect","fill":"#333333","opacity":0.35},"encoding":{"x2":{"field":"x2"},"y2":{"field":"y2"}}},
{"data":{"name":"o"},"transform":[{"filter":"datum.p==8"}],"mark":{"type":"circle","color":"#9640c0","size":15,"opacity":1}},
{"data":{"name":"l"},"transform":[{"filter":"datum.p==8"}],"mark":{"type":"line","color":"black","strokeWidth":0.8},"encoding":{"strokeDash":{"field":"q","scale":{"domain":["m","h","l"],"range":[[1,0],[3,2],[3,2]]},"legend":null}}}
]},
{"width":153,"height":98,
"encoding":{"x":{"field":"x","type":"quantitative","scale":{"domain":[-2.5,68.5],"nice":false,"zero":false},"axis":{"values":[0,3.5,7,10.5,14,17.5,21,24.5,28,31.5,35,38.5,42,45.5,49,52.5,56,59.5,63,66.5],"title":null}},
"y":{"field":"y","type":"quantitative","scale":{"type":"log","domain":[0.35,209],"nice":false},"axis":{"values":[0.01,0.0316,0.1,0.316,1,3.16,10,31.6,100,316,1000,3162],"format":"d","title":"Aβ (1–40)"}}},
"layer":[
{"data":{"name":"b"},"transform":[{"filter":"datum.p==9 && datum.k!='m'"}],"mark":{"type":"rect","fill":"#a3d8ee"},"encoding":{"x2":{"field":"x2"},"y2":{"field":"y2"}}},
{"data":{"name":"b"},"transform":[{"filter":"datum.p==9 && datum.k=='m'"}],"mark":{"type":"rect","fill":"#333333","opacity":0.35},"encoding":{"x2":{"field":"x2"},"y2":{"field":"y2"}}},
{"data":{"name":"o"},"transform":[{"filter":"datum.p==9"}],"mark":{"type":"circle","color":"#9640c0","size":15,"opacity":1}},
{"data":{"name":"l"},"transform":[{"filter":"datum.p==9"}],"mark":{"type":"line","color":"black","strokeWidth":0.8},"encoding":{"strokeDash":{"field":"q","scale":{"domain":["m","h","l"],"range":[[1,0],[3,2],[3,2]]},"legend":null}}}
]},
{"width":153,"height":98,
"encoding":{"x":{"field":"x","type":"quantitative","scale":{"domain":[-2.5,68.5],"nice":false,"zero":false},"axis":{"values":[0,3.5,7,10.5,14,17.5,21,24.5,28,31.5,35,38.5,42,45.5,49,52.5,56,59.5,63,66.5],"title":null}},
"y":{"field":"y","type":"quantitative","scale":{"type":"log","domain":[18.7,179],"nice":false},"axis":{"values":[0.01,0.0316,0.1,0.316,1,3.16,10,31.6,100,316,1000,3162],"format":"d","title":null}}},
"layer":[
{"data":{"name":"b"},"transform":[{"filter":"datum.p==10 && datum.k!='m'"}],"mark":{"type":"rect","fill":"#a3d8ee"},"encoding":{"x2":{"field":"x2"},"y2":{"field":"y2"}}},
{"data":{"name":"b"},"transform":[{"filter":"datum.p==10 && datum.k=='m'"}],"mark":{"type":"rect","fill":"#333333","opacity":0.35},"encoding":{"x2":{"field":"x2"},"y2":{"field":"y2"}}},
{"data":{"name":"o"},"transform":[{"filter":"datum.p==10"}],"mark":{"type":"circle","color":"#9640c0","size":15,"opacity":1}},
{"data":{"name":"l"},"transform":[{"filter":"datum.p==10"}],"mark":{"type":"line","color":"black","strokeWidth":0.8},"encoding":{"strokeDash":{"field":"q","scale":{"domain":["m","h","l"],"range":[[1,0],[3,2],[3,2]]},"legend":null}}}
]},
{"width":153,"height":98,
"encoding":{"x":{"field":"x","type":"quantitative","scale":{"domain":[-2.5,68.5],"nice":false,"zero":false},"axis":{"values":[0,3.5,7,10.5,14,17.5,21,24.5,28,31.5,35,38.5,42,45.5,49,52.5,56,59.5,63,66.5],"title":null}},
"y":{"field":"y","type":"quantitative","scale":{"type":"log","domain":[0.27,102],"nice":false},"axis":{"values":[0.01,0.0316,0.1,0.316,1,3.16,10,31.6,100,316,1000,3162],"format":"d","title":null}}},
"layer":[
{"data":{"name":"b"},"transform":[{"filter":"datum.p==11 && datum.k!='m'"}],"mark":{"type":"rect","fill":"#a3d8ee"},"encoding":{"x2":{"field":"x2"},"y2":{"field":"y2"}}},
{"data":{"name":"b"},"transform":[{"filter":"datum.p==11 && datum.k=='m'"}],"mark":{"type":"rect","fill":"#333333","opacity":0.35},"encoding":{"x2":{"field":"x2"},"y2":{"field":"y2"}}},
{"data":{"name":"o"},"transform":[{"filter":"datum.p==11"}],"mark":{"type":"circle","color":"#9640c0","size":15,"opacity":1}},
{"data":{"name":"l"},"transform":[{"filter":"datum.p==11"}],"mark":{"type":"line","color":"black","strokeWidth":0.8},"encoding":{"strokeDash":{"field":"q","scale":{"domain":["m","h","l"],"range":[[1,0],[3,2],[3,2]]},"legend":null}}}
]},
{"width":153,"height":98,
"encoding":{"x":{"field":"x","type":"quantitative","scale":{"domain":[-2.5,68.5],"nice":false,"zero":false},"axis":{"values":[0,3.5,7,10.5,14,17.5,21,24.5,28,31.5,35,38.5,42,45.5,49,52.5,56,59.5,63,66.5],"title":null}},
"y":{"field":"y","type":"quantitative","scale":{"type":"log","domain":[7.9,76],"nice":false},"axis":{"values":[0.01,0.0316,0.1,0.316,1,3.16,10,31.6,100,316,1000,3162],"format":"d","title":null}}},
"layer":[
{"data":{"name":"b"},"transform":[{"filter":"datum.p==12 && datum.k!='m'"}],"mark":{"type":"rect","fill":"#a3d8ee"},"encoding":{"x2":{"field":"x2"},"y2":{"field":"y2"}}},
{"data":{"name":"b"},"transform":[{"filter":"datum.p==12 && datum.k=='m'"}],"mark":{"type":"rect","fill":"#333333","opacity":0.35},"encoding":{"x2":{"field":"x2"},"y2":{"field":"y2"}}},
{"data":{"name":"o"},"transform":[{"filter":"datum.p==12"}],"mark":{"type":"circle","color":"#9640c0","size":15,"opacity":1}},
{"data":{"name":"l"},"transform":[{"filter":"datum.p==12"}],"mark":{"type":"line","color":"black","strokeWidth":0.8},"encoding":{"strokeDash":{"field":"q","scale":{"domain":["m","h","l"],"range":[[1,0],[3,2],[3,2]]},"legend":null}}}
]}
]}],
"config":{
"view":{"stroke":null},
"font":"Roboto",
"title":{"fontSize":15,"fontWeight":"normal","font":"Roboto","color":"#1a1a1a","offset":4},
"axis":{"domainColor":"#000000","domainWidth":1,"tickColor":"#000000","tickSize":4,"tickWidth":0.8,"labelFont":"Liberation Sans Narrow, Roboto","labelFontSize":11,"labelColor":"#333333","labelPadding":2,"titleFont":"Roboto","titleFontSize":14,"titleFontWeight":"normal","titleColor":"#1a1a1a","titlePadding":7,"gridWidth":0.8,"labelFlush":false,"labelOverlap":false},
"axisX":{"labelExpr":"datum.value % 7 == 0 ? datum.label : ''","gridColor":{"condition":{"test":"datum.value % 7 != 0","value":"#f1f1f1"},"value":"#e3e3e3"},"tickOpacity":{"condition":{"test":"datum.value % 7 != 0","value":0},"value":1}},
"axisY":{"labelExpr":"abs(log(datum.value)/LN10 - round(log(datum.value)/LN10)) < 0.1 ? datum.label : ''","gridColor":{"condition":{"test":"abs(log(datum.value)/LN10 - round(log(datum.value)/LN10)) > 0.1","value":"#f1f1f1"},"value":"#e3e3e3"},"tickOpacity":{"condition":{"test":"abs(log(datum.value)/LN10 - round(log(datum.value)/LN10)) > 0.1","value":0},"value":1}}
}
}
